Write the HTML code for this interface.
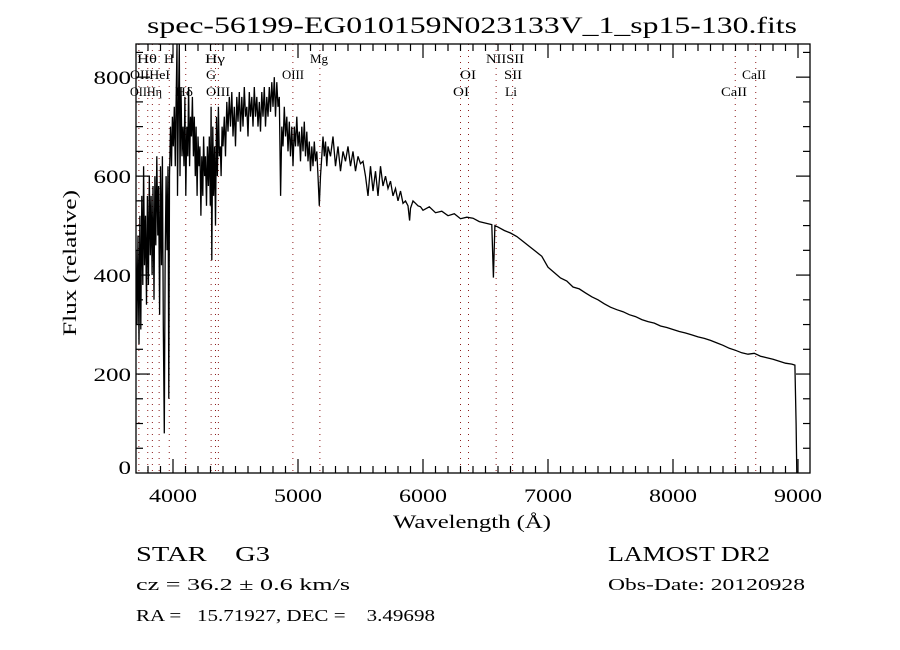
<!DOCTYPE html>
<html><head><meta charset="utf-8">
<style>
html,body{margin:0;padding:0;background:#fff;}
svg{display:block;}
text{font-family:"Liberation Serif",serif;fill:#000;}
</style></head>
<body>
<svg id="chart" width="900" height="650" viewBox="0 0 900 650" xmlns="http://www.w3.org/2000/svg">
<text x="147" y="33" font-size="23" textLength="650" lengthAdjust="spacingAndGlyphs">spec-56199-EG010159N023133V_1_sp15-130.fits</text>
<text x="0" y="0" font-size="19" textLength="146" lengthAdjust="spacingAndGlyphs" transform="translate(76 336) rotate(-90)">Flux (relative)</text>
<text x="393" y="528" font-size="19" textLength="158" lengthAdjust="spacingAndGlyphs">Wavelength (Å)</text>
<text x="136" y="561" font-size="21" textLength="134" lengthAdjust="spacingAndGlyphs" xml:space="preserve">STAR    G3</text>
<text x="136" y="590" font-size="17" textLength="214" lengthAdjust="spacingAndGlyphs">cz = 36.2 ± 0.6 km/s</text>
<text x="136" y="621" font-size="17" textLength="299" lengthAdjust="spacingAndGlyphs" xml:space="preserve">RA =   15.71927, DEC =    3.49698</text>
<text x="608" y="561" font-size="21" textLength="162" lengthAdjust="spacingAndGlyphs">LAMOST DR2</text>
<text x="608" y="590" font-size="17" textLength="197" lengthAdjust="spacingAndGlyphs">Obs-Date: 20120928</text>
<g id="plot"></g>
</svg>
<script>
const blueWavelengths=[3705,3712,3720,3728,3735,3742,3750,3758,3765,3772,3780,3788,3795,3803,3810,3818,3825,3833,3840,3848,3855,3862,3870,3878,3885,3893,3900,3908,3915,3922,3930,3937,3945,3952,3960,3966,3972,3980,3988,3995,4002,4010,4018,4025,4032,4036,4042,4050,4056,4064,4072,4080,4088,4095,4102,4110,4118,4125,4133,4140,4148,4155,4163,4170,4178,4185,4193,4200,4208,4215,4223,4230,4238,4245,4253,4260,4268,4275,4283,4290,4298,4305,4310,4318,4325,4333,4340,4348,4355,4363,4370,4378,4385,4393,4400,4410,4420,4430,4440,4450,4460,4470,4480,4490,4500,4510,4520,4530,4540,4550,4560,4570,4580,4590,4600,4610,4620,4630,4640,4650,4660,4670,4680,4690,4700,4710,4720,4730,4740,4750,4760,4770,4780,4790,4800,4810,4820,4830,4840,4850,4861,4870,4880,4890,4900,4910,4920,4930,4940,4950,4960,4970,4980,4990,5000,5010,5020,5030,5040,5050,5060,5070,5080,5090,5100,5110,5120,5130,5140,5150,5160,5170,5180,5190,5200,5210,5220,5230,5240,5260,5280,5300,5320,5340,5360,5380,5400,5420,5440,5460,5480,5500,5520,5540,5560,5580,5600,5620,5640,5660,5680,5700,5720,5740,5760,5780,5800,5820,5840,5860,5880,5893,5900,5920,5940,5960,5980];
const blueFluxes=[450,300,480,260,520,290,560,380,620,420,520,340,560,380,600,440,560,400,580,350,600,460,640,480,580,320,620,420,640,300,80,420,600,450,620,150,600,700,620,720,660,740,620,750,870,560,720,870,600,780,640,700,620,760,560,700,640,780,620,720,680,760,640,720,600,700,560,680,620,660,520,640,560,680,600,640,540,660,580,680,540,740,430,700,560,660,500,720,600,740,640,660,600,700,660,720,640,750,690,760,700,770,680,740,660,760,710,770,690,760,700,780,720,740,680,770,720,760,700,780,720,760,700,750,690,770,720,780,700,760,720,780,730,790,740,800,720,790,740,760,560,700,660,740,680,720,650,710,640,700,620,700,660,720,660,690,630,700,650,710,640,690,630,670,610,660,620,670,630,650,600,540,600,640,680,640,670,620,660,640,680,620,660,610,650,630,660,620,650,610,640,625,630,600,560,620,570,610,560,620,580,600,575,590,560,575,550,570,545,550,540,510,535,550,545,540,538];
const redWavelengths=[6000,6050,6100,6150,6200,6250,6300,6350,6400,6450,6500,6550,6563,6575,6600,6650,6700,6750,6800,6850,6900,6950,
7000,7050,7100,7150,7200,7250,7300,7350,7400,7450,
7500,7550,7600,7650,7700,7750,7800,7850,7900,7950,
8000,8050,8100,8150,8200,8250,8300,8350,8400,8450,
8500,8550,8600,8650,8700,8750,8800,8850,8900,8950,
8975,8985,8990];
const redFluxes=[531,538,526,529,520,524,514,517,515,508,505,502,395,500,497,490,485,478,468,458,448,438,
416,405,394,388,376,372,364,356,350,342,
335,330,326,320,316,310,306,303,297,294,
290,286,283,279,275,272,268,263,258,252,
248,243,240,242,236,233,230,226,222,220,
218,100,0];
const tickValuesX=[4000,5000,6000,7000,8000,9000];
const tickValuesY=[0,200,400,600,800];
const lineWavelengths=[3727,3798,3835,3889,3970,4102,4305,4340,4363,4959,5175,6300,6364,6585,6717,8498,8662];
const lineLabels=[
 {t:"Hθ",x:137,y:63,w:20},{t:"H",x:164,y:63,w:10},{t:"Hγ",x:205,y:63,w:20},{t:"Mg",x:310,y:63,w:18},{t:"NIISII",x:486,y:63,w:38},
 {t:"OIIHeI",x:130,y:79,w:40},{t:"G",x:206,y:79,w:10},{t:"OIII",x:282,y:79,w:22},{t:"OI",x:460,y:79,w:16},{t:"SII",x:504,y:79,w:18},{t:"CaII",x:742,y:79,w:24},
 {t:"OIIHη",x:130,y:96,w:32},{t:"Hδ",x:175,y:96,w:18},{t:"OIII",x:206,y:96,w:24},{t:"OI",x:453,y:96,w:16},{t:"Li",x:505,y:96,w:12},{t:"CaII",x:721,y:96,w:26}];
const wavelengths=blueWavelengths.concat(redWavelengths);
const fluxes=blueFluxes.concat(redFluxes);
const L=136,R=810,T=44,B=473;
const xMin=3704,xMax=9096,yMin=0,yMax=867;
function xs(w){return L+(w-xMin)/(xMax-xMin)*(R-L);}
function ys(f){return B-(f-yMin)/(yMax-yMin)*(B-T);}
const NS="http://www.w3.org/2000/svg";
const g=document.getElementById('plot');
function mk(tag,attrs){const e=document.createElementNS(NS,tag);for(const k in attrs)e.setAttribute(k,attrs[k]);g.appendChild(e);return e;}
lineWavelengths.forEach(w=>{
 const e=mk('line',{x1:xs(w),x2:xs(w),y1:T,y2:B,stroke:'#8b1a1a','stroke-width':1,'stroke-dasharray':'1,5'});
 
 
});
lineLabels.forEach(l=>{
 const e=mk('text',{x:l.x,y:l.y,'font-size':13,textLength:l.w,lengthAdjust:'spacingAndGlyphs'});
 e.textContent=l.t;
 
 
});
let d='';
const n=Math.min(wavelengths.length,fluxes.length);
for(let i=0;i<n;i++){d+=(i?'L':'M')+xs(wavelengths[i]).toFixed(1)+','+Math.max(T,ys(fluxes[i])).toFixed(1);}
const sp=mk('path',{d:d,fill:'none',stroke:'#000','stroke-width':1.3});


const fr=mk('rect',{x:L,y:T,width:R-L,height:B-T,fill:'none',stroke:'#000','stroke-width':1.3});


for(let w=3800;w<=9000;w+=100){
 const maj=w%1000===0,len=maj?14:7;
 const t1=mk('line',{x1:xs(w),x2:xs(w),y1:B,y2:B-len,stroke:'#000','stroke-width':1.2});
 
 
 const t2=mk('line',{x1:xs(w),x2:xs(w),y1:T,y2:T+len,stroke:'#000','stroke-width':1.2});
 
 
}
tickValuesX.forEach(v=>{
 const e=mk('text',{x:xs(v)-24,y:B+29,'font-size':19,textLength:48,lengthAdjust:'spacingAndGlyphs'});
 e.textContent=v;
 
 
});
for(let f=50;f<=850;f+=50){
 const maj=f%200===0,len=maj?14:7;
 const t1=mk('line',{x1:L,x2:L+len,y1:ys(f),y2:ys(f),stroke:'#000','stroke-width':1.2});
 
 
 const t2=mk('line',{x1:R,x2:R-len,y1:ys(f),y2:ys(f),stroke:'#000','stroke-width':1.2});
 
 
}
tickValuesY.forEach(v=>{
 const s=String(v),w=s.length*12.5;
 const e=mk('text',{x:L-5-w,y:ys(v)+(v===0?1:7),'font-size':19,textLength:w,lengthAdjust:'spacingAndGlyphs'});
 e.textContent=s;
 
 
});
</script>
</body></html>
